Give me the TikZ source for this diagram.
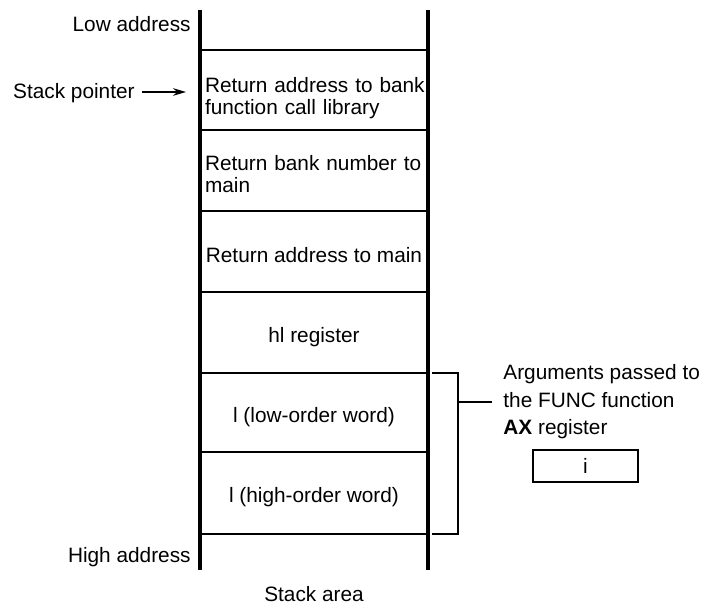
\documentclass[tikz,border=0pt]{standalone}
\usepackage{fontspec}
\setmainfont{Liberation Sans}
\usetikzlibrary{arrows.meta,calc,positioning}
\definecolor{StackInk}{HTML}{000000}
\tikzset{
  every node/.style={font=\fontsize{10.4}{11.3}\selectfont, text=StackInk, inner sep=0pt},
  wall/.style={draw=StackInk, line width=1.6pt},
  divider/.style={draw=StackInk, line width=1.2pt},
  bracket/.style={draw=StackInk, line width=1pt},
  celltext/.style={align=center},
  cellleft/.style={align=left, text width=111pt},
  sidetext/.style={align=left, font=\fontsize{10.4}{13.8}\selectfont},
  regbox/.style={draw=StackInk, line width=1pt, minimum width=52.5pt, minimum height=16pt},
  pointer/.style={-{Stealth[length=6.5pt,width=3.8pt]}, draw=StackInk, line width=0.85pt},
}
\begin{document}
\begin{tikzpicture}[x=0.5pt,y=-0.5pt]
  \useasboundingbox (0,0) rectangle (706,608);
  % Stack walls
  \draw[wall] (200,10) -- (200,570);
  \draw[wall] (428,10) -- (428,570);
  % Cell boundaries
  \foreach \y in {50,130,211,292,373,452,534} \draw[divider] (200,\y) -- (428,\y);
  % Cell contents
  \node[cellleft] (retlib) at (316,98) {Return address to bank\\function call library};
  \node[cellleft] (retbank) at (316,174) {Return bank number to\\main};
  \node[celltext] (retmain) at (314,255) {Return address to main};
  \node[celltext] (hlreg) at (314,337) {hl register};
  \node[celltext] (loword) at (314,417) {l (low-order word)};
  \node[celltext] (hiword) at (314,497) {l (high-order word)};
  % Address labels
  \node[anchor=east] (lowaddr) at (191,24) {Low address};
  \node[anchor=east] (highaddr) at (191,557) {High address};
  \node (stackarea) at (314,594) {Stack area};
  % Stack pointer
  \node[anchor=east] (sp) at (135,93) {Stack pointer};
  \coordinate (spTip) at (186,92);
  \draw[pointer, shorten <=3.5pt] (sp.east |- spTip) -- (spTip);
  % Arguments bracket
  \coordinate (argTop) at (432,373);
  \coordinate (argBot) at (432,534);
  \draw[bracket] (argTop) -- ++(26,0) |- (argBot);
  \node[sidetext, anchor=west] (args) at (503,402)
    {Arguments passed to\\the FUNC function\\\textbf{AX} register};
  \draw[bracket, shorten >=5.5pt] (args.west -| 458,0) -- (args.west);
  % AX register contents
  \node[regbox] (axreg) at (585.5,466) {i};
\end{tikzpicture}
\end{document}
